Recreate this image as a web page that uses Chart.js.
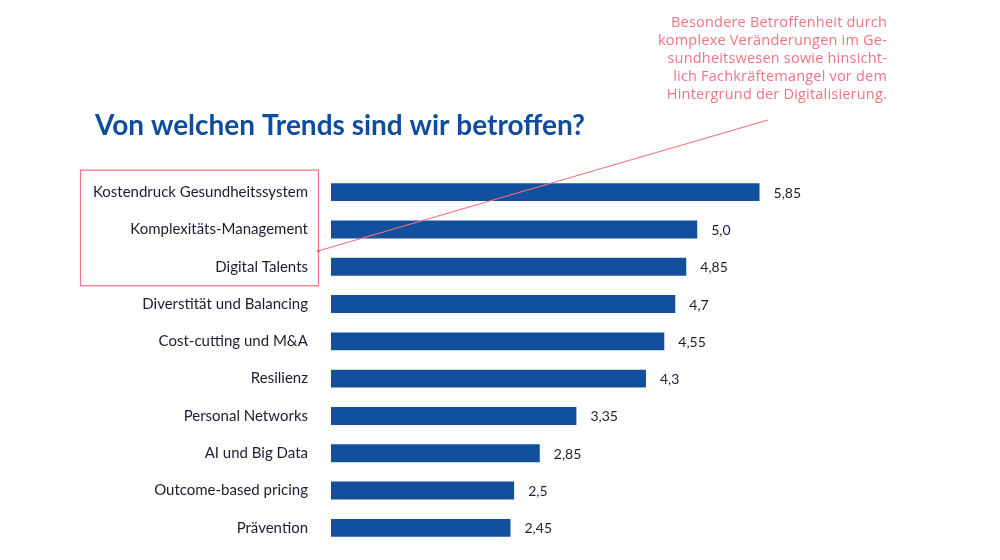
<!DOCTYPE html>
<html><head><meta charset="utf-8">
<script src="https://cdn.jsdelivr.net/npm/chart.js@4"></script>
<style>html,body{margin:0;padding:0;background:#fff;}canvas{display:block;}</style>
</head><body>
<canvas id="c" width="1000" height="560"></canvas>
<script>
const categories = ["Kostendruck Gesundheitssystem","Komplexitäts-Management","Digital Talents","Diverstität und Balancing","Cost-cutting und M&A","Resilienz","Personal Networks","AI und Big Data","Outcome-based pricing","Prävention"];
const values = [5.85,5.0,4.85,4.7,4.55,4.3,3.35,2.85,2.5,2.45];
const valueLabels = ["5,85","5,0","4,85","4,7","4,55","4,3","3,35","2,85","2,5","2,45"];
const titleText = "Von welchen Trends sind wir betroffen?";
const noteLines = ["Besondere Betroffenheit durch","komplexe Veränderungen im Ge-","sundheitswesen sowie hinsicht-","lich Fachkräftemangel vor dem","Hintergrund der Digitalisierung."];

const pink = "#f07482";
const extras = {
  id:"extras",
  afterDraw(chart){
    const ctx = chart.ctx;
    const x = chart.scales.x, y = chart.scales.y;
    ctx.save();
    ctx.font = "14px Lato";
    ctx.fillStyle = "#1c1c35";
    ctx.textAlign = "left"; ctx.textBaseline = "middle";
    values.forEach((v,i)=>{
      ctx.fillText(valueLabels[i], x.getPixelForValue(v)+14, y.getPixelForValue(i)+1);
    });
    ctx.font = "bold 28px Lato";
    ctx.fillStyle = "#0f4c9e";
    ctx.textBaseline = "alphabetic";
    ctx.fillText(titleText, 95, 135);
    ctx.font = "14.5px 'Open Sans'";
    ctx.letterSpacing = "0.2px";
    ctx.fillStyle = pink;
    ctx.textAlign = "right";
    noteLines.forEach((l,i)=>{ ctx.fillText(l, 887, 27 + i*18); });
    ctx.letterSpacing = "0px";
    const top = y.getPixelForValue(0) - 22, bot = y.getPixelForValue(2) + 19;
    ctx.strokeStyle = pink; ctx.lineWidth = 1.2;
    ctx.strokeRect(80.5, top, 238, bot-top);
    ctx.beginPath(); ctx.moveTo(318, 251); ctx.lineTo(768, 120); ctx.stroke();
    ctx.beginPath(); ctx.arc(318.5, 251, 1.8, 0, Math.PI*2); ctx.fillStyle = pink; ctx.fill();
    ctx.restore();
  }
};

new Chart(document.getElementById("c"), {
  type:"bar",
  data:{ labels:categories, datasets:[{ data:values, backgroundColor:"#124f9c", borderWidth:0, barPercentage:0.96, categoryPercentage:0.5 }]},
  options:{
    indexAxis:"y", responsive:false, animation:false,
    layout:{ padding:{ top:173.5, bottom:13.5, right:83, left:0 } },
    plugins:{ legend:{display:false}, tooltip:{enabled:false} },
    scales:{
      x:{ display:false, min:0, max:8 },
      y:{ grid:{display:false, drawTicks:false}, border:{display:false},
          ticks:{ padding:23, color:"#1c1c35", font:{family:"Lato", size:15} },
          afterFit(s){ s.width = 331; s.paddingTop = 0; s.paddingBottom = 0; } }
    }
  },
  plugins:[extras]
});
</script>
</body></html>
